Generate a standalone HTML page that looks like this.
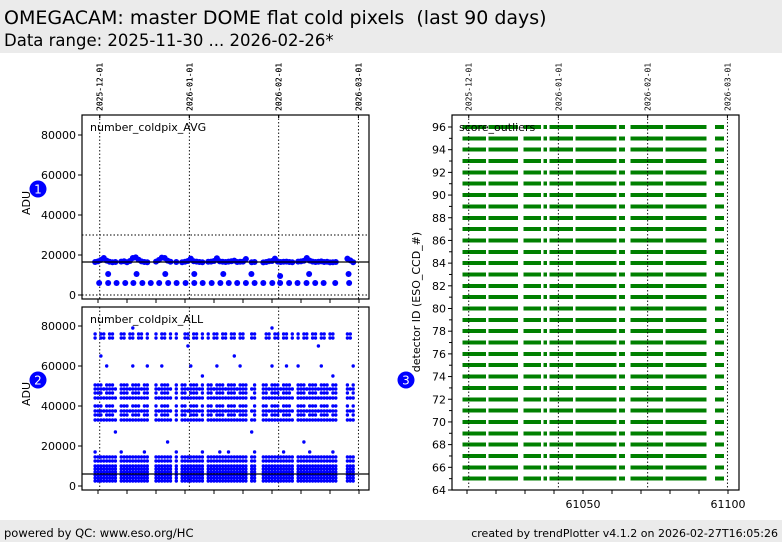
<!DOCTYPE html>
<html><head><meta charset="utf-8"><style>
body{margin:0;width:782px;height:542px;background:#fff;overflow:hidden;font-family:"DejaVu Sans","Liberation Sans",sans-serif}
svg{position:absolute;left:0;top:0;font-family:"DejaVu Sans","Liberation Sans",sans-serif}
</style></head><body>
<svg width="782" height="542" id="c">
<rect x="0" y="0" width="782" height="53" fill="#ebebeb"/>
<text x="4" y="24" font-size="19" fill="#000" xml:space="preserve">OMEGACAM: master DOME flat cold pixels  (last 90 days)</text>
<text x="4" y="46" font-size="16.5" fill="#000">Data range: 2025-11-30 ... 2026-02-26*</text>
<rect x="0" y="520" width="782" height="22" fill="#ebebeb"/>
<text x="4" y="537" font-size="11.5">powered by QC: www.eso.org/HC</text>
<text x="778" y="537" font-size="11" text-anchor="end">created by trendPlotter v4.1.2 on 2026-02-27T16:05:26</text>
<g id="g"></g>
</svg>
<script>
// data
const dateLabels=["2025-12-01","2026-01-01","2026-02-01","2026-03-01"];
const dateMjd=[61010.6,61041.5,61072.3,61099.8];
const obsDays=[61009,61010,61011,61012,61013,61014,61015,61016,61018,61019,61020,61021,61022,61023,61024,61025,61026,61027,61030,61031,61032,61033,61034,61035,61037,61039,61040,61041,61042,61043,61044,61045,61046,61048,61049,61050,61051,61052,61053,61054,61055,61056,61057,61058,61059,61060,61061,61063,61064,61067,61068,61069,61070,61071,61072,61073,61074,61075,61076,61077,61079,61080,61081,61082,61083,61084,61085,61086,61087,61088,61089,61090,61091,61092,61096,61097,61098];
const avgMain=[16500,16800,17500,18500,17200,16600,16400,16500,16700,16900,16400,17000,18500,18800,17600,16800,16500,16400,16700,17500,18700,18500,17200,16600,16500,16400,16600,17000,18200,16900,16700,16500,16400,16600,16700,17000,18400,16800,16600,16500,16700,16900,17200,16500,16600,16700,18000,16400,16500,16300,16500,16900,17000,18200,16700,16500,16600,16700,16500,16400,16700,16800,17100,18500,17200,16700,16500,16600,16800,16500,16600,16300,16400,16500,18200,17300,16400];
const lowDays=[61010.4,61013.5,61016.4,61019.4,61022.2,61025.3,61028.2,61031.1,61034.2,61037.1,61040.2,61043.2,61046.1,61049.2,61052.2,61055.1,61058.0,61061,61064,61067,61070.1,61072.8,61075.9,61078.8,61081.9,61084.9,61087.8,61091.8,61096.6];
const lowVals=[6000,6000,6000,6000,6000,6000,6000,6000,6000,6000,6000,6000,6000,6000,6000,6000,6000,6000,6000,6000,6000,6000,6000,6000,6000,6000,6000,6000,6000];
const midDays=[61013.5,61023.3,61033.2,61043.2,61053.2,61062.9,61072.8,61082.8,61096.4];
const midVals=[10500,10500,10500,10500,10500,10500,9500,10500,10500];
const allLevels=[2500,4000,5500,7000,8500,10000,12500,14500,33000,35500,37500,40000,44000,46500,48500,50500,74000,76000];
const allSparse=[17000,22000,27000,55000,60000,65000,70000,79000];
const dets=[];for(let i=65;i<=96;i++)dets.push(i);

const g=document.getElementById('g');const NS='http://www.w3.org/2000/svg';
function el(t,a,p){const e=document.createElementNS(NS,t);for(const k in a)e.setAttribute(k,a[k]);(p||g).appendChild(e);return e;}
const xL=m=>98+(m-61010)*2.9, xR=m=>467+(m-61010)*2.9;
const y1=v=>295-v*0.002, y2=v=>486-v*0.002, y3=d=>490-(d-64)*(363/32);

function frame(x,y,w,h,name){const r=el('rect',{x:x,y:y,width:w,height:h,fill:'none',stroke:'#000','stroke-width':1.2});}
function dates(xf,top,bot,gname){
  dateMjd.forEach((m,i)=>{const x=xf(m);
    const l=el('line',{x1:x,x2:x,y1:top,y2:bot,stroke:'#000','stroke-dasharray':'1.5,2','stroke-width':0.9});
    
    const t=el('text',{x:0,y:0,'font-size':8,'font-family':'DejaVu Sans Mono,Liberation Mono,monospace',transform:'translate('+(x+3)+',111) rotate(-90)'});
    t.textContent=dateLabels[i];
    el('line',{x1:x,x2:x,y1:115,y2:118,stroke:'#000'});
  });
}
function xticks(xf,y){for(let m=61010;m<=61100;m+=10){const x=xf(m);el('line',{x1:x,x2:x,y1:y,y2:y+4,stroke:'#000'});}}
function yticks(yf,vals,x){vals.forEach(v=>{const y=yf(v);el('line',{x1:x-4,x2:x,y1:y,y2:y,stroke:'#000'});
  const t=el('text',{x:x-6,y:y+4,'font-size':11,'text-anchor':'end'});t.textContent=v;});}
function badge(cx,cy,n){const c=el('circle',{cx:cx,cy:cy,r:8.5,fill:'#0000ff'});
  const t=el('text',{x:cx,y:cy+4.5,'font-size':12,fill:'#fff','text-anchor':'middle'});t.textContent=n;}
function ylabel(x,y,s){const t=el('text',{x:0,y:0,'font-size':11,'text-anchor':'middle',transform:'translate('+x+','+y+') rotate(-90)'});t.textContent=s;}
function dot(x,y,r,name){const c=el('circle',{cx:x,cy:y,r:r,fill:'#0000ff'});}

// Panel 1
dates(xL,115,299,'p1');
el('line',{x1:82,x2:369,y1:y1(30000),y2:y1(30000),stroke:'#000','stroke-dasharray':'1.5,2','stroke-width':0.9});
el('line',{x1:82,x2:369,y1:y1(0),y2:y1(0),stroke:'#000','stroke-dasharray':'1.5,2','stroke-width':0.9});
obsDays.forEach((d,i)=>dot(xL(d),y1(avgMain[i]),3,'avg-point'));
lowDays.forEach((d,i)=>dot(xL(d),y1(lowVals[i]),3,'avg-low-point'));
midDays.forEach((d,i)=>dot(xL(d),y1(midVals[i]),3,'avg-mid-point'));
el('line',{x1:82,x2:369,y1:y1(16500),y2:y1(16500),stroke:'#000','stroke-width':1.2});
frame(82,115,287,184,'panel-avg');
xticks(xL,299);yticks(y1,[0,20000,40000,60000,80000],82);
let t=el('text',{x:90,y:131,'font-size':11});t.textContent='number_coldpix_AVG';
ylabel(30,203,'ADU');badge(38,189,'1');

// Panel 2
dates(xL,307,490,'p2');
obsDays.forEach((d,i)=>{allLevels.forEach((v,j)=>{if(j>=16&&i%3==1)return;if(j>=8&&j<16&&i%4==3&&j%2)return;dot(xL(d),y2(v),1.7,'all-point');});
  if(i%4==0)dot(xL(d),y2(allSparse[i%8]),1.7,'all-point');if(i%5==2)dot(xL(d),y2(allSparse[(i+3)%8]),1.7,'all-point');});
el('line',{x1:82,x2:369,y1:y2(6000),y2:y2(6000),stroke:'#000','stroke-width':1.2});
frame(82,307,287,183,'panel-all');
xticks(xL,490);yticks(y2,[0,20000,40000,60000,80000],82);
t=el('text',{x:90,y:323,'font-size':11});t.textContent='number_coldpix_ALL';
ylabel(30,394,'ADU');badge(38,380,'2');

// Panel 3
dets.forEach(dv=>obsDays.forEach(d=>{const r=el('rect',{x:xR(d-0.5)-0.15,y:y3(dv)-2,width:3.2,height:4,fill:'#008000','shape-rendering':'crispEdges'});
  }));
dates(xR,115,490,'p3');
frame(452,115,287,375,'panel-score-outliers');
xticks(xR,490);
for(let v=64;v<=96;v++){const y=y3(v);el('line',{x1:v%2?449:448,x2:452,y1:y,y2:y,stroke:'#000'});
  if(v%2==0){const tt=el('text',{x:446,y:y+4,'font-size':11,'text-anchor':'end'});tt.textContent=v;}}
[[61050,'61050'],[61100,'61100']].forEach(([m,s])=>{const tt=el('text',{x:xR(m),y:508,'font-size':11,'text-anchor':'middle'});tt.textContent=s;});
t=el('text',{x:459,y:131,'font-size':11});t.textContent='score_outliers';
ylabel(420,302,'detector ID (ESO_CCD_#)');badge(406,380,'3');
</script>
</body></html>
